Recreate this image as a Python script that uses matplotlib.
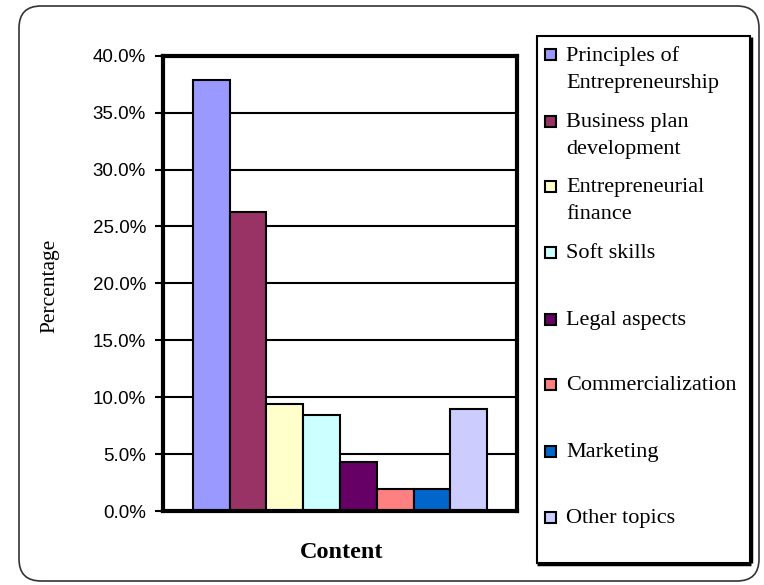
import matplotlib
matplotlib.use("Agg")
import matplotlib.pyplot as plt
from matplotlib.patches import FancyBboxPatch, Rectangle
from matplotlib.transforms import IdentityTransform
from matplotlib.ticker import FuncFormatter

categories = ["Principles of\nEntrepreneurship", "Business plan\ndevelopment",
              "Entrepreneurial\nfinance", "Soft skills", "Legal aspects",
              "Commercialization", "Marketing", "Other topics"]
values = [37.9, 26.3, 9.4, 8.4, 4.3, 1.9, 1.9, 9.0]
colors = ["#9999FF", "#993366", "#FFFFCC", "#CCFFFF", "#660066",
          "#FF8080", "#0066CC", "#CCCCFF"]
yticks = [0, 5, 10, 15, 20, 25, 30, 35, 40]

W, H = 764, 585
fig = plt.figure(figsize=(W / 100, H / 100), dpi=100)
fig.patch.set_facecolor("white")

# outer rounded frame (pixel coordinates)
frame = FancyBboxPatch((19, H - 581), 740, 575,
                       boxstyle="round,pad=0,rounding_size=22",
                       transform=IdentityTransform(), fill=False,
                       edgecolor="#333333", linewidth=1.2)
fig.patches.append(frame)

ax = fig.add_axes([162.7 / W, 1 - 511 / H, (516.7 - 162.7) / W, (511 - 55.7) / H])
x = list(range(len(values)))
ax.bar(x, values, width=1.0, color=colors, edgecolor="black", linewidth=1.5, zorder=3)
ax.set_xlim(-0.5 - 0.815, len(values) - 0.5 + 0.8)
ax.set_ylim(0, 40)
ax.set_yticks(yticks)
ax.yaxis.set_major_formatter(FuncFormatter(lambda v, p: f"{v:.1f}%"))
ax.set_xticks([])
for v in yticks[1:-1]:
    ax.axhline(v, color="black", linewidth=1.5, zorder=1)
for s in ax.spines.values():
    s.set_linewidth(3)
    s.set_zorder(5)
ax.tick_params(axis="y", direction="out", length=6, width=1.5, pad=6,
               labelsize=13.5, labelcolor="black")
for lab in ax.get_yticklabels():
    lab.set_family("Liberation Sans")

fig.text(49.5 / W, 1 - 286 / H, "Percentage", rotation=90, ha="center", va="center",
         family="Liberation Serif", fontsize=15.5)
fig.text(342 / W, 1 - 552 / H, "Content", ha="center", va="center",
         family="Liberation Serif", fontsize=17.5, fontweight="bold")

# legend box
leg = Rectangle((537, H - 563), 213, 527, transform=IdentityTransform(),
                fill=True, facecolor="white", edgecolor="black", linewidth=1.5)
fig.patches.append(leg)
fig.patches.append(Rectangle((751, H - 563), 0, 526, transform=IdentityTransform(),
                             fill=False, edgecolor="black", linewidth=2.5))
fig.patches.append(Rectangle((537, H - 564), 214, 0, transform=IdentityTransform(),
                             fill=False, edgecolor="black", linewidth=2.5))

first_line_y = [55, 122, 187, 253, 320, 385, 452, 518]
for cat, col, yy in zip(categories, colors, first_line_y):
    fig.patches.append(Rectangle((545, H - yy - 5), 11, 11, transform=IdentityTransform(),
                                 facecolor=col, edgecolor="black", linewidth=1.5))
    fig.text(566 / W, 1 - (yy - 9) / H, cat, ha="left", va="top",
             family="Liberation Serif", fontsize=16, linespacing=1.55)

fig.savefig("out.png", dpi=100)
